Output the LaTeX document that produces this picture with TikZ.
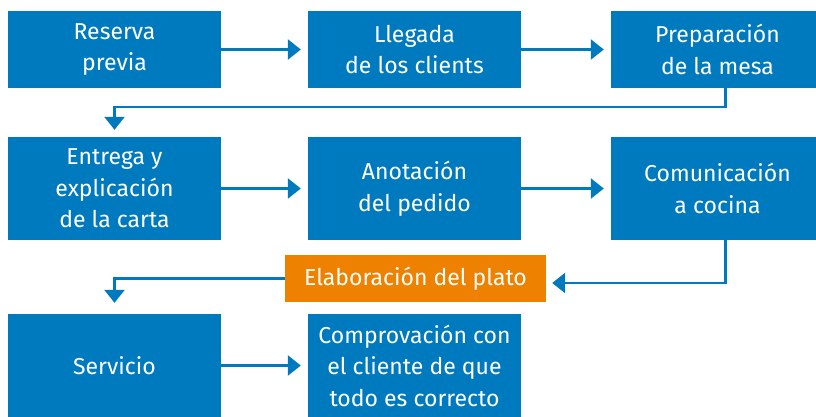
\documentclass[tikz,border=0pt]{standalone}
\usepackage{fontspec}
\setmainfont{Fira Sans}
\usetikzlibrary{arrows.meta}

\definecolor{pasoazul}{RGB}{0,122,190}
\definecolor{pasonaranja}{RGB}{238,130,0}

\tikzset{
  paso/.style={fill=pasoazul, text=white, minimum width=213pt, minimum height=103pt,
    inner sep=0pt, align=center, font=\fontsize{23}{31.5}\selectfont},
  flecha/.style={draw=pasoazul, line width=2.6pt,
    -{Triangle[width=20pt,length=13pt]}},
}

\begin{document}
\begin{tikzpicture}[x=1pt,y=-1pt]
        \useasboundingbox (0,0) rectangle (816,416);
        \clip (0,0) rectangle (816,416);

        % First row
        \node[paso, minimum height=77pt] (reserva) at (114.5,49.5) {Reserva\\previa};
        \node[paso, minimum height=77pt] (llegada) at (414.5,49.5) {Llegada\\de los clients};
        \node[paso, minimum height=77pt] (mesa) at (717.5,49.5) {Preparación\\de la mesa};

        % Second row
        \node[paso] (carta) at (114.5,188.5) {Entrega y\\explicación\\de la carta};
        \node[paso] (pedido) at (414.5,188.5) {Anotación\\del pedido};
        \node[paso] (cocina) at (717.5,188.5) {Comunicación\\a cocina};

        % Kitchen step
        \node[paso, fill=pasonaranja, minimum width=261pt, minimum height=47pt] (plato)
          at (415.5,278.5) {Elaboración del plato};

        % Third row
        \node[paso] (servicio) at (114.5,365.5) {Servicio};
        \node[paso] (control) at (414.5,365.5) {Comprovación con\\el cliente de que\\todo es correcto};

        % Bends
        \coordinate (giro1) at (0,107);
        \coordinate (giro2) at (0,283);
        \coordinate (giro3) at (0,278.5);

        % Arrows
        \draw[flecha, shorten >=7pt] (reserva) -- (llegada);
        \draw[flecha, shorten >=7pt] (llegada) -- (mesa);
        \draw[flecha, shorten >=7pt] ([xshift=8pt]mesa.south) -- ([xshift=8pt]mesa.south |- giro1)
          -- (carta.north |- giro1) -- (carta.north);
        \draw[flecha, shorten >=7pt] (carta) -- (pedido);
        \draw[flecha, shorten >=7pt] (pedido) -- (cocina);
        \draw[flecha, shorten >=6pt] ([xshift=8pt]cocina.south) -- ([xshift=8pt]cocina.south |- giro2)
          -- (plato.east |- giro2);
        \draw[flecha, shorten >=11pt] (plato.west) -- (servicio.north |- giro3) -- (servicio.north);
        \draw[flecha, shorten >=7pt] (servicio) -- (control);

    \end{tikzpicture}
\end{document}
